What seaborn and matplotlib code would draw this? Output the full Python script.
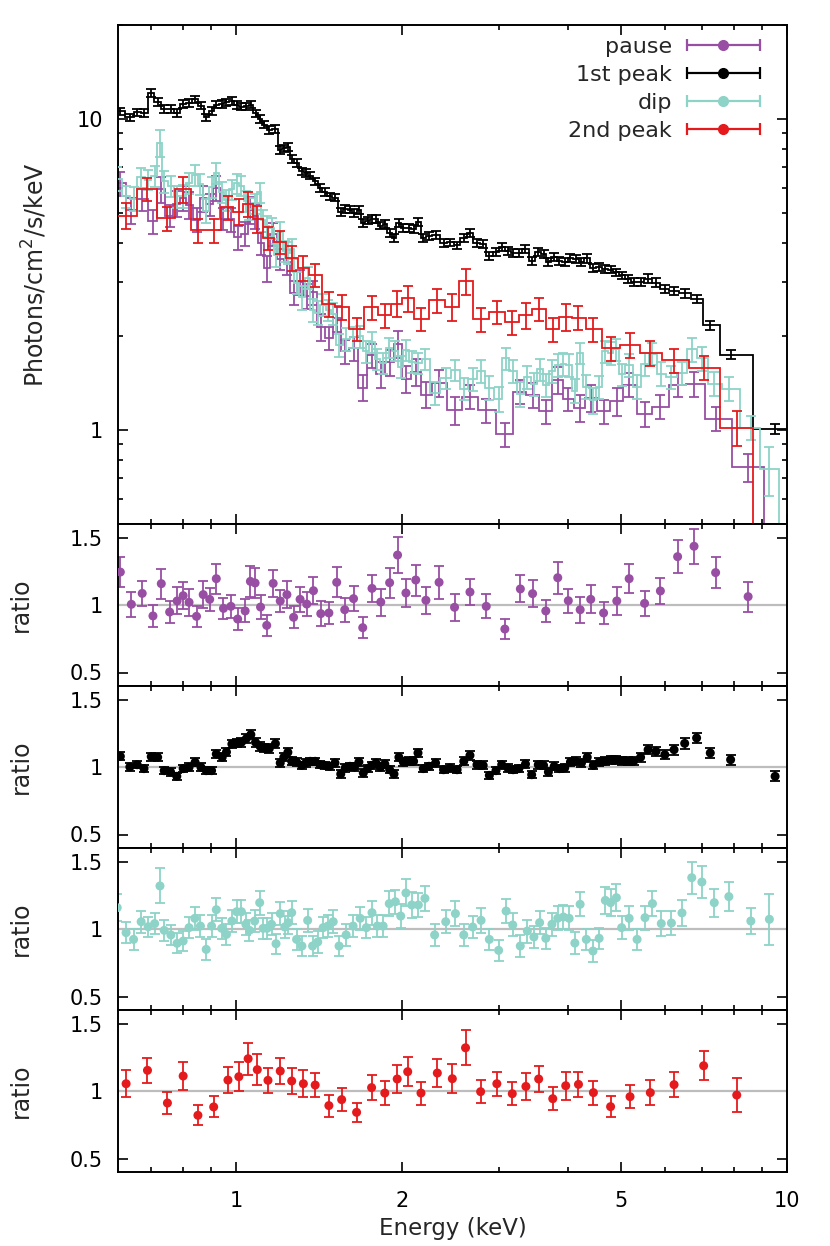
import numpy as np
import pandas as pd
import matplotlib
matplotlib.use("Agg")
import matplotlib.pyplot as plt
import seaborn as sns
from matplotlib.container import ErrorbarContainer
from matplotlib.legend_handler import HandlerErrorbar
from matplotlib.ticker import LogLocator, NullFormatter

#### DATA ####
# pause
pause_energy = [0.616, 0.645, 0.675, 0.706, 0.731, 0.757, 0.781, 0.801, 0.821, 0.847,
                0.871, 0.895, 0.920, 0.948, 0.978, 1.006, 1.038, 1.061, 1.082, 1.107,
                1.136, 1.167, 1.202, 1.236, 1.271, 1.306, 1.343, 1.381, 1.424, 1.473,
                1.522, 1.574, 1.633, 1.697, 1.764, 1.830, 1.899, 1.963, 2.033, 2.118,
                2.210, 2.335, 2.491, 2.657, 2.844, 3.074, 3.280, 3.452, 3.648, 3.835,
                4.008, 4.212, 4.402, 4.645, 4.909, 5.169, 5.513, 5.890, 6.330, 6.780,
                7.420, 8.500]
pause_spec = [6.22, 5.08, 5.52, 4.69, 5.94, 4.89, 5.34, 5.56, 5.30, 4.74,
              5.55, 5.31, 5.98, 4.78, 4.75, 4.17, 4.28, 5.11, 4.88, 3.99,
              3.31, 4.27, 3.54, 3.48, 2.76, 2.99, 2.70, 2.77, 2.15, 1.98,
              2.29, 1.79, 1.83, 1.37, 1.74, 1.51, 1.65, 1.89, 1.46, 1.54,
              1.30, 1.42, 1.16, 1.28, 1.16, 0.97, 1.33, 1.30, 1.15, 1.45,
              1.26, 1.18, 1.27, 1.15, 1.24, 1.40, 1.13, 1.19, 1.40, 1.41,
              1.09, 0.76]
pause_ratio = [1.244, 1.005, 1.086, 0.919, 1.158, 0.948, 1.030, 1.069, 1.020, 0.916,
               1.077, 1.042, 1.195, 0.975, 0.990, 0.896, 0.956, 1.175, 1.163, 0.985,
               0.849, 1.160, 1.030, 1.077, 0.909, 1.042, 1.007, 1.106, 0.936, 0.941,
               1.168, 0.965, 1.047, 0.832, 1.123, 1.022, 1.165, 1.370, 1.089, 1.185,
               1.035, 1.168, 0.983, 1.096, 0.990, 0.822, 1.119, 1.084, 0.956, 1.202,
               1.032, 0.965, 1.042, 0.941, 1.030, 1.195, 1.012, 1.104, 1.358, 1.435,
               1.240, 1.062]
pause_err = [0.110, 0.094, 0.094, 0.080, 0.110, 0.080, 0.100, 0.100, 0.100, 0.080,
             0.100, 0.085, 0.110, 0.080, 0.085, 0.080, 0.085, 0.115, 0.110, 0.086,
             0.080, 0.100, 0.080, 0.100, 0.080, 0.095, 0.090, 0.100, 0.095, 0.080,
             0.110, 0.088, 0.095, 0.080, 0.100, 0.100, 0.110, 0.135, 0.107, 0.115,
             0.100, 0.120, 0.100, 0.096, 0.088, 0.073, 0.100, 0.098, 0.083, 0.117,
             0.090, 0.096, 0.104, 0.083, 0.104, 0.106, 0.093, 0.098, 0.120, 0.130,
             0.112, 0.112]

# 1st peak
peak1_energy = [0.616, 0.641, 0.661, 0.680, 0.701, 0.720, 0.740, 0.760, 0.780, 0.801,
                0.821, 0.842, 0.863, 0.882, 0.902, 0.920, 0.943, 0.960, 0.982, 1.002,
                1.022, 1.043, 1.063, 1.084, 1.105, 1.125, 1.148, 1.178, 1.202, 1.220,
                1.241, 1.261, 1.287, 1.314, 1.338, 1.363, 1.391, 1.419, 1.448, 1.478,
                1.511, 1.548, 1.577, 1.609, 1.639, 1.670, 1.701, 1.732, 1.761, 1.794,
                1.827, 1.861, 1.899, 1.934, 1.974, 2.011, 2.056, 2.099, 2.138, 2.186,
                2.239, 2.301, 2.379, 2.445, 2.518, 2.589, 2.657, 2.736, 2.808, 2.881,
                2.962, 3.034, 3.113, 3.183, 3.260, 3.351, 3.439, 3.535, 3.614, 3.688,
                3.778, 3.862, 3.948, 4.044, 4.135, 4.235, 4.338, 4.451, 4.559, 4.670,
                4.783, 4.900, 5.018, 5.140, 5.265, 5.422, 5.595, 5.783, 6.000, 6.237,
                6.520, 6.853, 7.256, 7.900, 9.515]
peak1_spec = [10.57, 10.10, 10.48, 10.42, 12.10, 11.30, 10.75, 10.74, 10.43, 11.16,
              11.23, 11.54, 11.03, 10.10, 10.61, 11.10, 11.15, 11.28, 11.41, 11.07,
              10.94, 10.95, 11.10, 10.41, 9.97, 9.58, 9.20, 9.27, 7.93, 8.04,
              8.10, 7.45, 7.21, 6.78, 6.70, 6.56, 6.30, 6.00, 5.82, 5.63,
              5.58, 5.02, 5.14, 5.11, 4.99, 5.11, 4.64, 4.71, 4.76, 4.76,
              4.54, 4.58, 4.31, 4.13, 4.63, 4.46, 4.46, 4.43, 4.67, 4.15,
              4.20, 4.25, 4.00, 4.01, 3.92, 4.14, 4.29, 3.99, 3.95, 3.63,
              3.74, 3.88, 3.77, 3.70, 3.71, 3.81, 3.49, 3.73, 3.68, 3.48,
              3.59, 3.49, 3.46, 3.57, 3.54, 3.46, 3.56, 3.31, 3.34, 3.30,
              3.28, 3.21, 3.14, 3.06, 2.99, 2.99, 3.07, 2.98, 2.84, 2.80,
              2.75, 2.64, 2.17, 1.75, 1.01]
peak1_ratio = [1.079, 1.000, 1.017, 0.988, 1.077, 1.072, 0.973, 0.963, 0.931, 0.988,
               0.998, 1.035, 0.998, 0.973, 0.973, 1.096, 1.072, 1.111, 1.170, 1.178,
               1.183, 1.210, 1.240, 1.183, 1.153, 1.141, 1.136, 1.173, 1.030, 1.072,
               1.109, 1.042, 1.037, 1.012, 1.030, 1.042, 1.042, 1.017, 1.012, 1.005,
               1.030, 0.948, 0.993, 1.005, 0.998, 1.037, 0.956, 0.988, 1.012, 1.030,
               0.998, 1.022, 0.980, 0.948, 1.072, 1.037, 1.042, 1.042, 1.104, 0.988,
               1.005, 1.030, 0.980, 0.993, 0.980, 1.042, 1.086, 1.017, 1.012, 0.938,
               0.973, 1.017, 0.993, 0.980, 0.988, 1.022, 0.943, 1.017, 1.012, 0.963,
               1.005, 0.988, 0.993, 1.037, 1.042, 1.030, 1.072, 1.012, 1.037, 1.042,
               1.054, 1.054, 1.047, 1.042, 1.042, 1.072, 1.128, 1.116, 1.091, 1.128,
               1.175, 1.215, 1.104, 1.054, 0.931]
peak1_err = [0.030, 0.028, 0.028, 0.028, 0.030, 0.030, 0.028, 0.028, 0.028, 0.028,
             0.028, 0.030, 0.028, 0.028, 0.028, 0.030, 0.030, 0.030, 0.032, 0.032,
             0.032, 0.032, 0.034, 0.032, 0.032, 0.032, 0.032, 0.032, 0.030, 0.030,
             0.032, 0.030, 0.028, 0.028, 0.028, 0.028, 0.028, 0.028, 0.028, 0.028,
             0.028, 0.028, 0.028, 0.028, 0.028, 0.030, 0.028, 0.028, 0.028, 0.030,
             0.028, 0.030, 0.028, 0.028, 0.030, 0.030, 0.030, 0.030, 0.032, 0.028,
             0.028, 0.030, 0.028, 0.028, 0.028, 0.030, 0.032, 0.030, 0.030, 0.028,
             0.028, 0.030, 0.028, 0.028, 0.028, 0.030, 0.028, 0.030, 0.030, 0.028,
             0.030, 0.028, 0.030, 0.030, 0.030, 0.030, 0.032, 0.030, 0.030, 0.030,
             0.030, 0.030, 0.030, 0.030, 0.030, 0.032, 0.034, 0.034, 0.034, 0.036,
             0.038, 0.040, 0.038, 0.036, 0.036]

# dip
dip_energy = [0.608, 0.631, 0.651, 0.672, 0.692, 0.711, 0.727, 0.740, 0.761, 0.781,
              0.801, 0.821, 0.841, 0.861, 0.882, 0.902, 0.920, 0.941, 0.960, 0.982,
              1.002, 1.022, 1.041, 1.057, 1.080, 1.103, 1.119, 1.138, 1.159, 1.181,
              1.202, 1.225, 1.243, 1.261, 1.287, 1.316, 1.348, 1.376, 1.406, 1.438,
              1.467, 1.500, 1.537, 1.583, 1.630, 1.679, 1.723, 1.764, 1.804, 1.848,
              1.896, 1.945, 1.989, 2.033, 2.083, 2.141, 2.201, 2.292, 2.401, 2.500,
              2.589, 2.687, 2.783, 2.881, 2.995, 3.090, 3.177, 3.279, 3.377, 3.471,
              3.555, 3.648, 3.743, 3.834, 3.927, 4.022, 4.119, 4.211, 4.321, 4.443,
              4.559, 4.679, 4.783, 4.900, 5.009, 5.169, 5.343, 5.523, 5.698, 5.912,
              6.168, 6.447, 6.715, 7.006, 7.378, 7.842, 8.597, 9.290]
dip_spec = [6.43, 5.64, 5.54, 6.48, 6.36, 6.55, 8.38, 6.29, 6.07, 5.63,
            5.65, 6.21, 6.58, 6.18, 5.07, 6.03, 6.69, 5.81, 5.47, 5.93,
            6.20, 6.09, 5.46, 5.15, 5.35, 5.80, 4.72, 4.52, 4.45, 3.65,
            4.34, 3.76, 3.72, 3.83, 2.97, 2.67, 3.09, 2.43, 2.38, 2.53,
            2.43, 2.37, 1.88, 1.96, 1.99, 2.00, 1.79, 1.92, 1.69, 1.64,
            1.84, 1.80, 1.60, 1.81, 1.66, 1.64, 1.69, 1.32, 1.47, 1.56,
            1.36, 1.46, 1.55, 1.37, 1.26, 1.70, 1.55, 1.31, 1.48, 1.41,
            1.57, 1.40, 1.55, 1.62, 1.63, 1.62, 1.34, 1.77, 1.38, 1.25,
            1.38, 1.79, 1.77, 1.82, 1.51, 1.62, 1.38, 1.63, 1.76, 1.52,
            1.48, 1.53, 1.82, 1.70, 1.41, 1.36, 1.02, 0.75]
dip_ratio = [1.158, 0.973, 0.923, 1.054, 1.017, 1.040, 1.319, 0.990, 0.956, 0.894,
             0.911, 1.010, 1.079, 1.022, 0.849, 1.022, 1.143, 1.005, 0.960, 1.059,
             1.128, 1.128, 1.035, 0.990, 1.059, 1.195, 1.005, 1.005, 1.035, 0.891,
             1.114, 1.015, 1.047, 1.121, 0.923, 0.874, 1.064, 0.874, 0.904, 1.010,
             1.022, 1.054, 0.874, 0.956, 1.022, 1.079, 1.010, 1.121, 1.022, 1.022,
             1.188, 1.202, 1.096, 1.267, 1.178, 1.178, 1.227, 0.956, 1.054, 1.114,
             0.956, 1.015, 1.064, 0.923, 0.842, 1.133, 1.030, 0.874, 0.985, 0.941,
             1.047, 0.931, 1.035, 1.079, 1.089, 1.079, 0.896, 1.183, 0.923, 0.837,
             0.931, 1.212, 1.195, 1.232, 1.010, 1.079, 0.923, 1.084, 1.188, 1.040,
             1.044, 1.119, 1.380, 1.348, 1.195, 1.240, 1.059, 1.072]
dip_err = [0.100, 0.080, 0.080, 0.080, 0.075, 0.080, 0.130, 0.080, 0.075, 0.075,
           0.075, 0.080, 0.085, 0.080, 0.075, 0.080, 0.085, 0.080, 0.075, 0.080,
           0.085, 0.085, 0.080, 0.080, 0.080, 0.090, 0.080, 0.080, 0.080, 0.075,
           0.085, 0.080, 0.085, 0.085, 0.075, 0.075, 0.085, 0.075, 0.080, 0.080,
           0.080, 0.085, 0.075, 0.080, 0.080, 0.085, 0.080, 0.090, 0.080, 0.080,
           0.090, 0.090, 0.090, 0.100, 0.095, 0.090, 0.095, 0.080, 0.085, 0.090,
           0.080, 0.085, 0.090, 0.080, 0.080, 0.090, 0.085, 0.080, 0.085, 0.080,
           0.085, 0.080, 0.085, 0.090, 0.090, 0.090, 0.080, 0.090, 0.080, 0.080,
           0.080, 0.100, 0.100, 0.100, 0.085, 0.090, 0.080, 0.090, 0.095, 0.090,
           0.090, 0.095, 0.120, 0.115, 0.105, 0.110, 0.095, 0.190]

# 2nd peak
peak2_energy = [0.631, 0.690, 0.750, 0.801, 0.852, 0.910, 0.966, 1.011, 1.051, 1.092,
                1.142, 1.202, 1.261, 1.324, 1.391, 1.473, 1.554, 1.654, 1.761, 1.861,
                1.960, 2.048, 2.165, 2.318, 2.468, 2.608, 2.778, 2.973, 3.171, 3.357,
                3.541, 3.756, 3.965, 4.182, 4.451, 4.783, 5.188, 5.647, 6.237, 7.058,
                8.105]
peak2_spec = [4.89, 5.95, 4.79, 5.95, 4.38, 4.38, 5.19, 5.03, 5.33, 4.77,
              4.15, 4.02, 3.58, 3.32, 3.15, 2.54, 2.48, 2.11, 2.48, 2.34,
              2.55, 2.65, 2.28, 2.61, 2.49, 3.01, 2.27, 2.39, 2.22, 2.34,
              2.45, 2.11, 2.31, 2.30, 2.11, 1.83, 1.88, 1.77, 1.68, 1.59,
              1.02]
peak2_ratio = [1.054, 1.153, 0.911, 1.111, 0.820, 0.882, 1.081, 1.106, 1.239, 1.158,
               1.079, 1.148, 1.074, 1.054, 1.044, 0.892, 0.936, 0.842, 1.025, 0.985,
               1.089, 1.143, 0.985, 1.133, 1.091, 1.320, 0.995, 1.054, 0.980, 1.034,
               1.089, 0.943, 1.039, 1.049, 0.988, 0.884, 0.958, 0.988, 1.047, 1.187,
               0.970]
peak2_err = [0.099, 0.095, 0.081, 0.106, 0.073, 0.078, 0.096, 0.107, 0.117, 0.113,
             0.092, 0.096, 0.097, 0.099, 0.087, 0.081, 0.086, 0.070, 0.090, 0.086,
             0.104, 0.106, 0.085, 0.104, 0.107, 0.129, 0.087, 0.090, 0.085, 0.100,
             0.095, 0.084, 0.103, 0.091, 0.089, 0.077, 0.086, 0.091, 0.092, 0.106,
             0.123]

names = ["pause", "1st peak", "dip", "2nd peak"]
colors = ["#984ea3", "#000000", "#8dd3c7", "#e41a1c"]

xticks = [1, 2, 5, 10]
xtick_labels = ["1", "2", "5", "10"]
xminor = [0.7, 0.8, 0.9, 3, 4, 6, 7, 8, 9]
spec_yticks = [1, 10]
spec_ytick_labels = ["1", "10"]
ratio_yticks = [0.5, 1, 1.5]
ratio_ytick_labels = ["0.5", "1", "1.5"]

series = [
    (pause_energy, pause_spec, pause_ratio, pause_err),
    (peak1_energy, peak1_spec, peak1_ratio, peak1_err),
    (dip_energy, dip_spec, dip_ratio, dip_err),
    (peak2_energy, peak2_spec, peak2_ratio, peak2_err),
]


def bin_edges(e):
    # geometric mid points between channel centres, ends extended by half a bin
    e = np.asarray(e)
    mids = np.sqrt(e[1:] * e[:-1])
    return np.concatenate([[e[0] ** 2 / mids[0]], mids, [e[-1] ** 2 / mids[-1]]])


#### PLOT ####
sns.set_theme(style="ticks")
plt.rcParams["font.family"] = ["DejaVu Sans"]
plt.rcParams["axes.linewidth"] = 1.4
plt.rcParams["axes.edgecolor"] = "black"

fig, axs = plt.subplots(
    5, 1, figsize=(8.3, 12.46), dpi=100, sharex=True,
    gridspec_kw={"height_ratios": [499, 162, 162, 162, 162]},
)
plt.subplots_adjust(left=118 / 830, right=787 / 830, top=1 - 25 / 1246,
                    bottom=1 - 1172 / 1246, hspace=0)

ax0 = axs[0]
ax0.set_xscale("log")
ax0.set_yscale("log")

handles = []
for i, ((e, s, r, err), name, c) in enumerate(zip(series, names, colors)):
    e = np.array(e)
    s = np.array(s)
    r = np.array(r)
    err = np.array(err)
    spec_err = s * err / r

    # spectrum as histogram steps
    ax0.stairs(s, bin_edges(e), baseline=0.05, color=c, lw=1.3, zorder=2 + i)
    ax0.errorbar(e, s, yerr=spec_err, fmt="none", ecolor=c, elinewidth=1.3,
                 capsize=3.5, capthick=1.3, zorder=2 + i)

    # legend sample
    h = ax0.errorbar([np.nan], [np.nan], xerr=[1.0], fmt="o", color=c, ms=7,
                     elinewidth=1.6, capsize=4.5, capthick=1.6)
    handles.append(h)

    # ratio panel
    ax = axs[i + 1]
    ax.axhline(1, color="#bdbdbd", lw=1.6, zorder=1)
    ax.errorbar(e, r, yerr=err, fmt="none", ecolor=c, elinewidth=1.3,
                capsize=3.3, capthick=1.3, zorder=2)
    df = pd.DataFrame({"energy": e, "ratio": r})
    sns.scatterplot(data=df, x="energy", y="ratio", color=c, s=42,
                    edgecolor="none", linewidth=0, ax=ax, zorder=3)
    ax.set_ylim(0.4, 1.6)
    ax.set_yticks(ratio_yticks, labels=ratio_ytick_labels)
    ax.set_ylabel("ratio", fontsize=17)
    ax.yaxis.set_label_coords(-0.127, 0.5)
    ax.set_xlabel("")

ax0.set_xlim(0.61, 10)
ax0.set_ylim(0.5, 20)
ax0.set_yticks(spec_yticks, labels=spec_ytick_labels)
ax0.yaxis.set_minor_locator(LogLocator(base=10, subs=np.arange(2, 10), numticks=20))
ax0.yaxis.set_minor_formatter(NullFormatter())
ax0.set_ylabel("Photons/cm$^2$/s/keV", fontsize=17)
ax0.yaxis.set_label_coords(-0.103, 0.5)

axs[-1].set_xticks(xticks, labels=xtick_labels)
axs[-1].set_xticks(xminor, minor=True)
axs[-1].xaxis.set_minor_formatter(NullFormatter())
axs[-1].set_xlabel("Energy (keV)", fontsize=16.5, labelpad=4)

for ax in axs:
    ax.tick_params(which="both", direction="in", top=True, right=True,
                   width=1.2, labelsize=15, colors="black")
    ax.tick_params(which="major", length=7.5)
    ax.tick_params(which="minor", length=3.8)
    ax.tick_params(axis="y", pad=11)
    for sp in ax.spines.values():
        sp.set_linewidth(1.4)
        sp.set_color("black")
axs[-1].tick_params(axis="x", pad=14)

ax0.legend(handles, names, loc="upper right", bbox_to_anchor=(0.959, 0.976),
           frameon=False, markerfirst=False, handlelength=3.25, handletextpad=0.7,
           labelspacing=0.36, borderpad=0, borderaxespad=0, fontsize=16,
           handler_map={ErrorbarContainer: HandlerErrorbar(xerr_size=1.625)})

plt.savefig("out.png", dpi=100)
